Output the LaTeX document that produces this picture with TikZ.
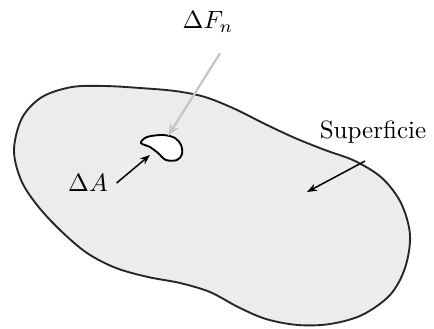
\documentclass[tikz,border=0pt]{standalone}
\usepackage{tikz}
\usetikzlibrary{arrows.meta, positioning}

\begin{document}
\begin{tikzpicture}[x=0.4pt, y=-0.4pt]
  % canvas in pixel units of the 434 x 328 sketch, y pointing down
  \useasboundingbox (0,0) rectangle (434,328);
  % body outline (one closed smooth curve, points about 30 px apart)
  \filldraw[fill=gray!15, draw=black!85, line width=0.75pt]
    plot[smooth cycle, tension=0.55] coordinates {
      (14,150) (22,118) (42,97) (72,87) (105,86) (140,88) (175,91) (205,97)
      (235,109) (265,124) (295,138) (325,150) (355,161) (382,178) (401,203)
      (410,235) (405,268) (390,295) (362,315) (330,324) (298,325) (266,319)
      (238,307) (210,292) (180,283) (148,277) (116,268) (87,253) (60,230)
      (37,205) (21,180)};
  % small area element
  \filldraw[fill=white, draw=black, line width=0.75pt]
    plot[smooth cycle, tension=0.55] coordinates {
      (141,143) (147,137) (163,135) (175,138) (181,145) (182,154) (177,160)
      (166,160) (158,153) (150,147)};
  % labels
  \node (dF) at (208,22) {$\Delta F_n$};
  \node (dA) at (88,183) {$\Delta A$};
  \node (sup) at (373,132) {Superficie};
  % arrow ends
  \coordinate (dFtip) at (168,136);
  \coordinate (dAtip) at (150,155);
  \coordinate (supend) at (307,192);
  % force (light gray), area and surface arrows
  \draw[gray!45, line width=0.9pt, -{Stealth[length=5pt, fill=gray!30]}]
    ([shift={(12,12)}]dF.south) -- (dFtip);
  \draw[black, line width=0.6pt, -{Stealth[length=4pt]}] (dA.east) -- (dAtip);
  \draw[black, line width=0.6pt, -{Stealth[length=4pt]}]
    ([shift={(-8,9)}]sup.south) -- (supend);
\end{tikzpicture}
\end{document}
